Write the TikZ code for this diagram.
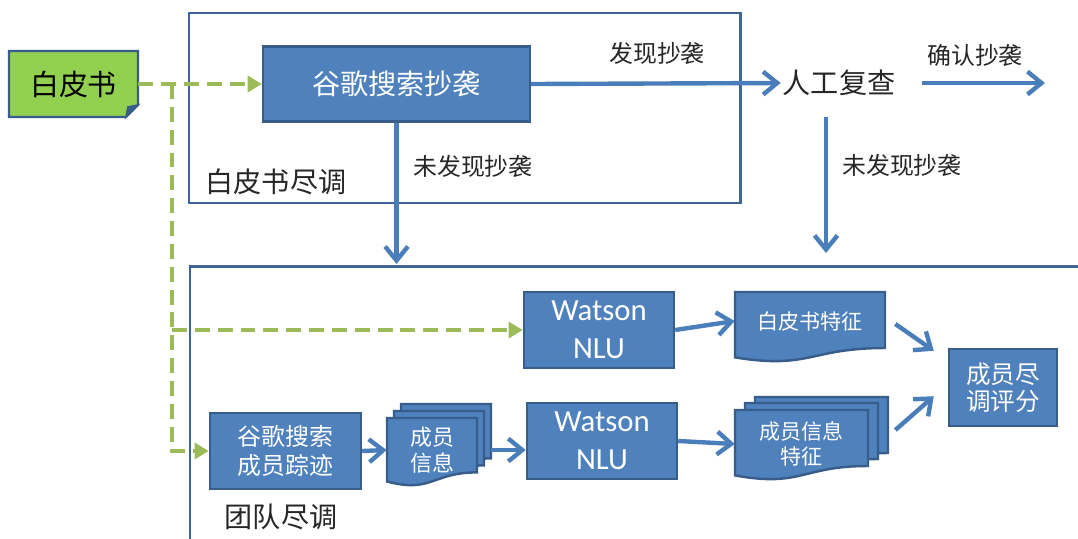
\documentclass[tikz,border=0pt]{standalone}
\usepackage{fontspec}
\setmainfont{Noto Sans CJK SC}
\newfontfamily\latinfont{Carlito}
\usepackage{xcolor}
\usetikzlibrary{positioning, arrows.meta, calc}

\definecolor{boxblue}{HTML}{4F81BD}
\definecolor{boxedge}{HTML}{385D8A}
\definecolor{framecol}{HTML}{3F6597}
\definecolor{flowblue}{HTML}{4A7EBB}
\definecolor{leafgreen}{HTML}{92D050}
\definecolor{dashgreen}{HTML}{9BBB59}
\definecolor{labelgray}{HTML}{262626}

% one page with a wavy bottom: x, y, width, height
\newcommand{\docpage}[4]{%
  \filldraw[docline] (#1,#2) -- ({#1+#3},#2) -- ({#1+#3},{#2+0.8*#4})
    .. controls ({#1+0.5*#3},{#2+0.8*#4}) and ({#1+0.5*#3},{#2+1.108*#4}) .. (#1,{#2+0.934*#4}) -- cycle;}

\begin{document}
\begin{tikzpicture}[
    x=0.02cm, y=-0.02cm,
    procbox/.style={
        draw=boxedge,
        fill=boxblue,
        line width=1.4pt,
        text=white,
        align=center,
        inner sep=0pt,
        minimum height=1.52cm
    },
    docline/.style={draw=boxedge, fill=boxblue, line width=1.4pt},
    doctext/.style={text=white, align=center, inner sep=0pt},
    frame/.style={draw=framecol, line width=1.7pt},
    flow/.style={-{Straight Barb[length=8pt, width=13pt]}, draw=flowblue, line width=2.5pt},
    feed/.style={-{Triangle[length=8pt, width=9pt]}, draw=dashgreen, line width=2.5pt, dash pattern=on 8.5pt off 4.5pt},
    note/.style={text=labelgray, inner sep=1pt},
    bigcn/.style={font=\fontsize{16}{20}\selectfont},
    midcn/.style={font=\fontsize{13.6}{17}\selectfont},
    nlufont/.style={font=\latinfont\fontsize{17.5}{21.5}\selectfont}
]
\useasboundingbox (0,0) rectangle (1078,538);

% frames
\draw[frame] (189,13) rectangle (740,203);
\draw[frame] (1082,266) -- (190,266) -- (190,542);
\node[note, bigcn] (wplabel) at (276,182) {白皮书尽调};
\node[note, bigcn] (teamlabel) at (281,517) {团队尽调};

% white paper
\filldraw[fill=leafgreen, draw=boxedge, line width=1.4pt]
    (9,51) -- (138,51) -- (138,105) -- (126,117) -- (9,117) -- cycle;
\filldraw[fill=boxedge, draw=boxedge, line width=1pt] (138,105) -- (126,117) -- (128,107) -- cycle;
\node[inner sep=0pt, minimum width=2.58cm, minimum height=1.32cm,
      font=\fontsize{16.5}{20}\selectfont] (paper) at (73.5,84) {白皮书};

% plagiarism check
\node[procbox, bigcn, minimum width=5.34cm, minimum height=1.5cm] (search) at (396.5,84) {谷歌搜索抄袭};
\node[note, bigcn] (review) at (839,83) {人工复查};
\node[note, midcn] (found) at (657,53) {发现抄袭};
\node[note, midcn] (confirm) at (975,55) {确认抄袭};
\node[note, midcn] (clearleft) at (473,166) {未发现抄袭};
\node[note, midcn] (clearright) at (902,165) {未发现抄袭};
\coordinate (confirmend) at (1045,83);
\coordinate (reviewdown) at (826,253);
\coordinate (teamtop) at (190,264);

% team check
\node[procbox, nlufont, minimum width=3cm] (nlu1) at (599,330) {Watson\\NLU};
\node[procbox, nlufont, minimum width=3cm] (nlu2) at (602,441) {Watson\\NLU};
\node[procbox, midcn, minimum width=3.02cm, font=\fontsize{13.6}{17}\selectfont] (trace) at (285.5,451) {谷歌搜索\\成员踪迹};
\node[procbox, font=\fontsize{14}{15.5}\selectfont, minimum width=2.16cm, minimum height=1.54cm] (score) at (1003,387.5) {成员尽\\调评分};

% documents
\docpage{735}{292}{150}{70}
\node[doctext, font=\fontsize{12}{14}\selectfont, minimum width=3cm, minimum height=0.9cm] (wpfeat) at (810,321) {白皮书特征};

\docpage{401}{404}{90}{68}
\docpage{394}{411}{90}{68}
\docpage{387}{418}{90}{68}
\node[doctext, font=\fontsize{12.5}{15}\selectfont, minimum width=1.8cm, minimum height=1.2cm] (members) at (432,450) {成员\\信息};

\docpage{755}{397}{133}{70}
\docpage{745}{403}{133}{70}
\docpage{735}{410}{133}{70}
\node[doctext, font=\fontsize{12}{14}\selectfont, minimum width=2.66cm, minimum height=1.1cm] (feats) at (801.5,444) {成员信息\\特征};

% connectors
\draw[feed] (paper.east) -- (search.west);
\coordinate (split) at (172,84);
\draw[feed] (split) |- (trace.west);
\draw[feed] (split |- nlu1.west) -- (nlu1.west);

\draw[flow] (search.east) -- (review.west);
\draw[flow, shorten <=0.5cm] (review.east) -- (confirmend);
\draw[flow, shorten <=0.38cm] (reviewdown |- review.south) -- (reviewdown);
\draw[flow] (search.south) -- (search.south |- teamtop);

\draw[flow] (nlu1.east) -- (wpfeat.west);
\draw[flow] (trace.east) -- (members.west);
\draw[flow, shorten <=0.28cm] (members.east) -- (members.east -| nlu2.west);
\draw[flow] (nlu2.east) -- (feats.west);
\draw[flow] ($(wpfeat.east)+(10,3)$) -- ($(score.north west)+(-14,3)$);
\draw[flow] ($(feats.east)+(27,-14)$) -- ($(score.south west)+(-14,-31)$);

\end{tikzpicture}
\end{document}
